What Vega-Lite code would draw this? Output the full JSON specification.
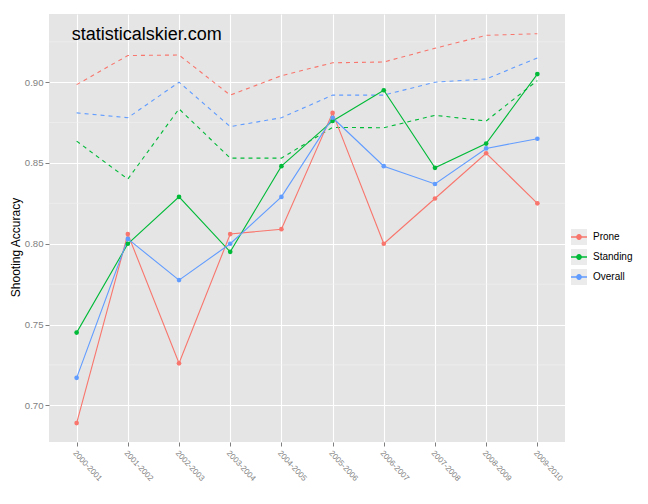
{
  "$schema": "https://vega.github.io/schema/vega-lite/v6.json",
  "width": 516,
  "height": 428,
  "autosize": "none",
  "padding": {"left": 49, "top": 14, "right": 83, "bottom": 62},
  "background": "#FFFFFF",
  "view": {"fill": "#E5E5E5", "stroke": null},
  "config": {
    "font": "Liberation Sans",
    "view": {"fill": "#E5E5E5", "stroke": null}
  },
  "datasets": {
    "acc": [
      {"season": "2000-2001", "series": "Prone", "kind": "solid", "value": 0.689},
      {"season": "2001-2002", "series": "Prone", "kind": "solid", "value": 0.806},
      {"season": "2002-2003", "series": "Prone", "kind": "solid", "value": 0.726},
      {"season": "2003-2004", "series": "Prone", "kind": "solid", "value": 0.806},
      {"season": "2004-2005", "series": "Prone", "kind": "solid", "value": 0.809},
      {"season": "2005-2006", "series": "Prone", "kind": "solid", "value": 0.881},
      {"season": "2006-2007", "series": "Prone", "kind": "solid", "value": 0.800},
      {"season": "2007-2008", "series": "Prone", "kind": "solid", "value": 0.828},
      {"season": "2008-2009", "series": "Prone", "kind": "solid", "value": 0.856},
      {"season": "2009-2010", "series": "Prone", "kind": "solid", "value": 0.825},
      {"season": "2000-2001", "series": "Standing", "kind": "solid", "value": 0.745},
      {"season": "2001-2002", "series": "Standing", "kind": "solid", "value": 0.800},
      {"season": "2002-2003", "series": "Standing", "kind": "solid", "value": 0.829},
      {"season": "2003-2004", "series": "Standing", "kind": "solid", "value": 0.795},
      {"season": "2004-2005", "series": "Standing", "kind": "solid", "value": 0.848},
      {"season": "2005-2006", "series": "Standing", "kind": "solid", "value": 0.876},
      {"season": "2006-2007", "series": "Standing", "kind": "solid", "value": 0.895},
      {"season": "2007-2008", "series": "Standing", "kind": "solid", "value": 0.847},
      {"season": "2008-2009", "series": "Standing", "kind": "solid", "value": 0.862},
      {"season": "2009-2010", "series": "Standing", "kind": "solid", "value": 0.905},
      {"season": "2000-2001", "series": "Overall", "kind": "solid", "value": 0.717},
      {"season": "2001-2002", "series": "Overall", "kind": "solid", "value": 0.803},
      {"season": "2002-2003", "series": "Overall", "kind": "solid", "value": 0.7775},
      {"season": "2003-2004", "series": "Overall", "kind": "solid", "value": 0.800},
      {"season": "2004-2005", "series": "Overall", "kind": "solid", "value": 0.829},
      {"season": "2005-2006", "series": "Overall", "kind": "solid", "value": 0.878},
      {"season": "2006-2007", "series": "Overall", "kind": "solid", "value": 0.848},
      {"season": "2007-2008", "series": "Overall", "kind": "solid", "value": 0.837},
      {"season": "2008-2009", "series": "Overall", "kind": "solid", "value": 0.859},
      {"season": "2009-2010", "series": "Overall", "kind": "solid", "value": 0.865},
      {"season": "2000-2001", "series": "Prone", "kind": "dashed", "value": 0.8985},
      {"season": "2001-2002", "series": "Prone", "kind": "dashed", "value": 0.9165},
      {"season": "2002-2003", "series": "Prone", "kind": "dashed", "value": 0.9168},
      {"season": "2003-2004", "series": "Prone", "kind": "dashed", "value": 0.892},
      {"season": "2004-2005", "series": "Prone", "kind": "dashed", "value": 0.904},
      {"season": "2005-2006", "series": "Prone", "kind": "dashed", "value": 0.912},
      {"season": "2006-2007", "series": "Prone", "kind": "dashed", "value": 0.9125},
      {"season": "2007-2008", "series": "Prone", "kind": "dashed", "value": 0.921},
      {"season": "2008-2009", "series": "Prone", "kind": "dashed", "value": 0.929},
      {"season": "2009-2010", "series": "Prone", "kind": "dashed", "value": 0.930},
      {"season": "2000-2001", "series": "Standing", "kind": "dashed", "value": 0.8635},
      {"season": "2001-2002", "series": "Standing", "kind": "dashed", "value": 0.840},
      {"season": "2002-2003", "series": "Standing", "kind": "dashed", "value": 0.8835},
      {"season": "2003-2004", "series": "Standing", "kind": "dashed", "value": 0.853},
      {"season": "2004-2005", "series": "Standing", "kind": "dashed", "value": 0.853},
      {"season": "2005-2006", "series": "Standing", "kind": "dashed", "value": 0.872},
      {"season": "2006-2007", "series": "Standing", "kind": "dashed", "value": 0.8718},
      {"season": "2007-2008", "series": "Standing", "kind": "dashed", "value": 0.8795},
      {"season": "2008-2009", "series": "Standing", "kind": "dashed", "value": 0.876},
      {"season": "2009-2010", "series": "Standing", "kind": "dashed", "value": 0.901},
      {"season": "2000-2001", "series": "Overall", "kind": "dashed", "value": 0.881},
      {"season": "2001-2002", "series": "Overall", "kind": "dashed", "value": 0.878},
      {"season": "2002-2003", "series": "Overall", "kind": "dashed", "value": 0.900},
      {"season": "2003-2004", "series": "Overall", "kind": "dashed", "value": 0.8725},
      {"season": "2004-2005", "series": "Overall", "kind": "dashed", "value": 0.878},
      {"season": "2005-2006", "series": "Overall", "kind": "dashed", "value": 0.892},
      {"season": "2006-2007", "series": "Overall", "kind": "dashed", "value": 0.892},
      {"season": "2007-2008", "series": "Overall", "kind": "dashed", "value": 0.900},
      {"season": "2008-2009", "series": "Overall", "kind": "dashed", "value": 0.902},
      {"season": "2009-2010", "series": "Overall", "kind": "dashed", "value": 0.915}
    ],
    "minor": [
      {"minor": 0.725}, {"minor": 0.775}, {"minor": 0.825}, {"minor": 0.875}, {"minor": 0.925}
    ],
    "keys": [
      {"key": "Prone"}, {"key": "Standing"}, {"key": "Overall"}
    ],
    "note": [
      {"label": "statisticalskier.com"}
    ]
  },
  "layer": [
    {
      "data": {"name": "minor"},
      "mark": {"type": "rule", "color": "#F2F2F2", "strokeWidth": 0.6},
      "encoding": {
        "y": {"field": "minor", "type": "quantitative"}
      }
    },
    {
      "data": {"name": "acc"},
      "transform": [{"filter": "datum.kind === 'dashed'"}],
      "mark": {"type": "line", "strokeWidth": 1.1, "strokeDash": [4, 4]},
      "encoding": {
        "x": {
          "field": "season",
          "type": "ordinal",
          "scale": {"type": "point", "padding": 0.54},
          "axis": {
            "title": null,
            "domain": false,
            "grid": true,
            "gridColor": "#FFFFFF",
            "gridWidth": 1.1,
            "ticks": true,
            "tickSize": 4,
            "tickColor": "#7F7F7F",
            "labelAngle": 47,
            "labelAlign": "left",
            "labelBaseline": "top",
            "labelFontSize": 8,
            "labelColor": "#7F7F7F",
            "labelPadding": 3
          }
        },
        "y": {
          "field": "value",
          "type": "quantitative",
          "scale": {"domain": [0.6773, 0.9422], "nice": false, "zero": false},
          "axis": {
            "title": "Shooting Accuracy",
            "titleFontSize": 12,
            "titleFontWeight": "normal",
            "titleColor": "#000000",
            "titleX": -34,
            "titleY": 233,
            "titleAlign": "center",
            "titleBaseline": "middle",
            "titleAngle": 270,
            "values": [0.7, 0.75, 0.8, 0.85, 0.9],
            "format": ".2f",
            "domain": false,
            "grid": true,
            "gridColor": "#FFFFFF",
            "gridWidth": 1.1,
            "tickSize": 4,
            "tickColor": "#7F7F7F",
            "labelFontSize": 9.6,
            "labelColor": "#7F7F7F",
            "labelPadding": 2
          }
        },
        "color": {"field": "series", "type": "nominal"},
        "detail": {"field": "series"}
      }
    },
    {
      "data": {"name": "acc"},
      "transform": [{"filter": "datum.kind === 'solid'"}],
      "mark": {"type": "line", "strokeWidth": 1.1},
      "encoding": {
        "x": {"field": "season", "type": "ordinal"},
        "y": {"field": "value", "type": "quantitative"},
        "color": {
          "field": "series",
          "type": "nominal",
          "scale": {"domain": ["Prone", "Standing", "Overall"], "range": ["#F8766D", "#00BA38", "#619CFF"]},
          "legend": {
            "title": null,
            "orient": "none",
            "legendX": 521,
            "legendY": 214,
            "padding": 0,
            "rowPadding": -7.1,
            "symbolType": "M-1,-1M1,1M-1,0L1,0M-0.28,0A0.28,0.28,0,1,0,0.28,0A0.28,0.28,0,1,0,-0.28,0",
            "symbolSize": 256,
            "symbolStrokeWidth": 1.3,
            "labelFontSize": 10,
            "labelColor": "#000000",
            "labelOffset": 5,
            "zindex": 1,
            "encode": {
              "symbols": {
                "update": {
                  "fill": {"scale": "color", "field": "value"},
                  "stroke": {"scale": "color", "field": "value"},
                  "opacity": {"value": 1}
                }
              }
            }
          }
        }
      }
    },
    {
      "data": {"name": "acc"},
      "transform": [{"filter": "datum.kind === 'solid'"}],
      "mark": {"type": "point", "filled": true, "size": 22, "opacity": 1},
      "encoding": {
        "x": {"field": "season", "type": "ordinal"},
        "y": {"field": "value", "type": "quantitative"},
        "color": {"field": "series", "type": "nominal"}
      }
    },
    {
      "data": {"name": "keys"},
      "mark": {"type": "point", "filled": true, "size": 1, "opacity": 0, "color": "#EBEBEB", "stroke": "#FFFFFF", "strokeWidth": 1.3},
      "encoding": {
        "x": {"datum": "2000-2001"},
        "y": {"datum": 0.8},
        "shape": {
          "field": "key",
          "type": "nominal",
          "scale": {"domain": ["Overall", "Prone", "Standing"], "range": ["square", "square", "square"]},
          "legend": {
            "title": null,
            "orient": "none",
            "legendX": 521,
            "legendY": 214,
            "padding": 0,
            "rowPadding": -7.1,
            "symbolSize": 256,
            "symbolStrokeWidth": 1.3,
            "symbolFillColor": "#EBEBEB",
            "symbolStrokeColor": "#FFFFFF",
            "symbolOpacity": 1,
            "labelFontSize": 10,
            "labelExpr": "''",
            "labelOffset": 5,
            "zindex": 0
          }
        }
      }
    },
    {
      "data": {"name": "note"},
      "mark": {"type": "text", "align": "left", "baseline": "middle", "fontSize": 18, "color": "#000000", "dx": -5},
      "encoding": {
        "x": {"datum": "2000-2001"},
        "y": {"datum": 0.9292},
        "text": {"field": "label"}
      }
    }
  ]
}
